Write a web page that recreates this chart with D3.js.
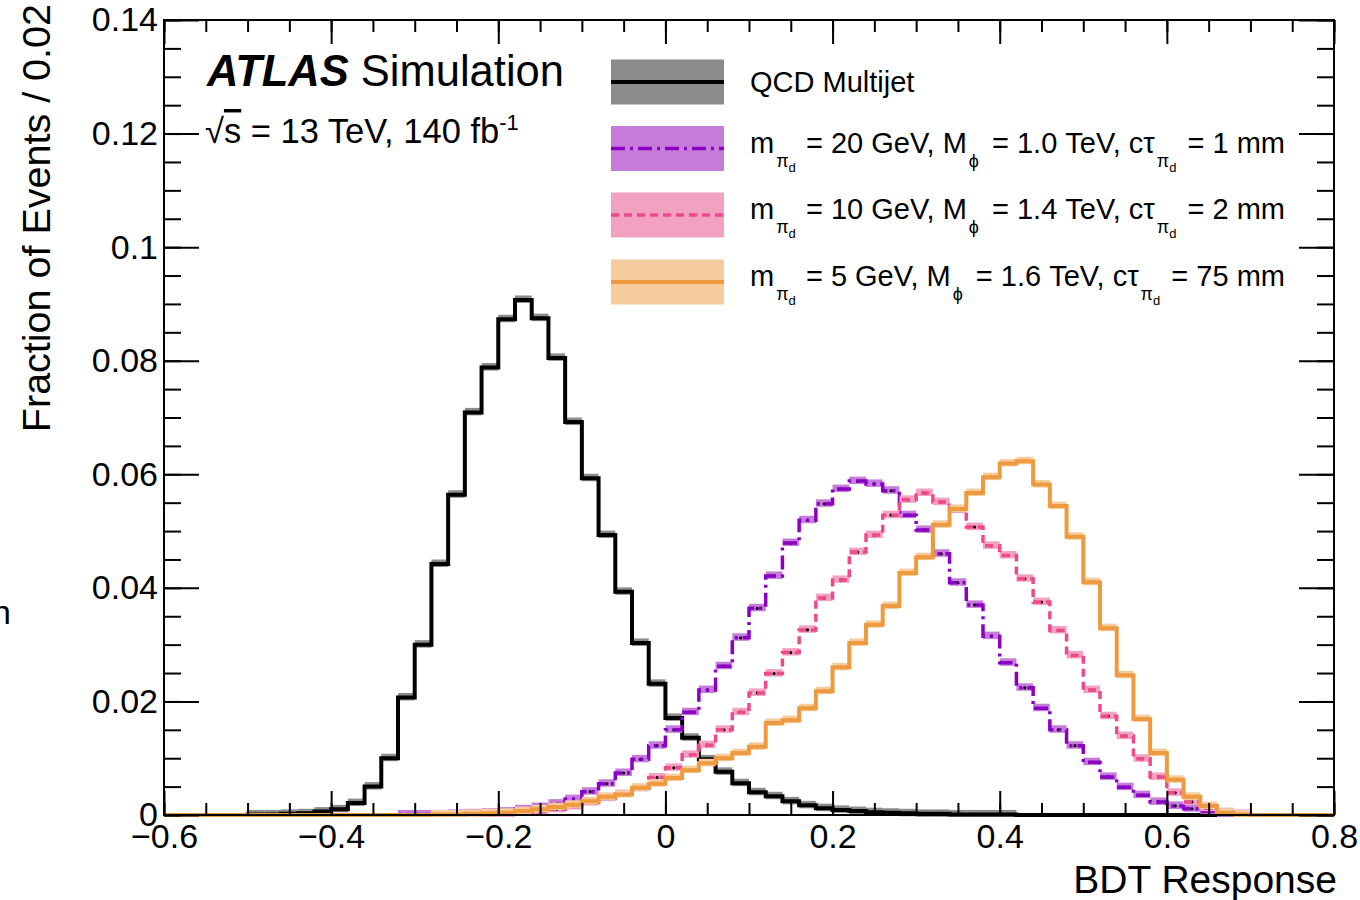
<!DOCTYPE html>
<html><head><meta charset="utf-8">
<script src="https://cdn.jsdelivr.net/npm/d3@7"></script>
<style>
body{margin:0;background:#fff;}
svg{display:block;font-family:"Liberation Sans",Arial,Helvetica,sans-serif;}
</style></head><body>
<svg id="chart" width="1360" height="900"></svg>
<script>
// ---------------- data ----------------
const xMin = -0.6, xMax = 0.8, binWidth = 0.02;
const qcd = [0,0,0,0,0,0.0001,0.0001,0.0002,0.0003,0.0006,0.0010,0.0021,0.0050,0.0100,0.0207,0.0300,0.0442,0.0564,0.0709,0.0788,
  0.0873,0.0907,0.0875,0.0805,0.0692,0.0593,0.0493,0.0393,0.0303,0.0231,0.0171,0.0136,0.0098,0.0076,0.0056,0.0040,0.0033,0.0024,0.0017,0.0012,
  0.0009,0.0007,0.0005,0.0004,0.0003,0.0002,0.0002,0.0001,0.0001,0.0001,0.0001,0,0,0,0,0,0,0,0,0,
  0,0,0,0,0,0,0,0,0,0];
const sig20 = [0,0,0,0,0,0,0,0,0,0,0,0,0,0,0.0001,0.0001,0.0001,0.0002,0.0003,0.0004,
  0.0006,0.0010,0.0014,0.0020,0.0028,0.0041,0.0055,0.0074,0.0098,0.0122,0.0150,0.0181,0.0220,0.0262,0.0312,0.0364,0.0421,0.0479,0.0519,0.0548,
  0.0574,0.0588,0.0583,0.0571,0.0528,0.0502,0.0460,0.0409,0.0370,0.0315,0.0268,0.0224,0.0188,0.0150,0.0122,0.0093,0.0067,0.0049,0.0035,0.0023,
  0.0016,0.0011,0.0006,0.0002,0.0001,0,0,0,0,0];
const sig10 = [0,0,0,0,0,0,0,0,0,0,0,0,0,0,0,0,0,0,0.0001,0.0001,
  0.0002,0.0004,0.0006,0.0010,0.0015,0.0022,0.0030,0.0037,0.0047,0.0066,0.0083,0.0106,0.0123,0.0150,0.0181,0.0215,0.0249,0.0286,0.0326,0.0382,
  0.0414,0.0463,0.0493,0.0528,0.0555,0.0567,0.0551,0.0537,0.0507,0.0474,0.0457,0.0416,0.0375,0.0325,0.0281,0.0220,0.0174,0.0139,0.0099,0.0067,
  0.0039,0.0023,0.0012,0.0005,0.0002,0,0,0,0,0];
const sig5 = [0,0,0,0,0,0,0,0,0,0,0,0,0,0,0,0,0.0001,0.0001,0.0002,0.0003,
  0.0004,0.0007,0.0010,0.0014,0.0018,0.0024,0.0032,0.0036,0.0048,0.0055,0.0065,0.0079,0.0091,0.0100,0.0109,0.0120,0.0162,0.0167,0.0188,0.0218,
  0.0260,0.0303,0.0335,0.0368,0.0426,0.0454,0.0511,0.0539,0.0567,0.0595,0.0619,0.0623,0.0582,0.0544,0.0490,0.0410,0.0329,0.0246,0.0169,0.0109,
  0.0062,0.0032,0.0016,0.0004,0.0001,0,0,0,0,0];

const xTickValues = [-0.6,-0.4,-0.2,0,0.2,0.4,0.6,0.8];
const xTickLabels = ["\u22120.6","\u22120.4","\u22120.2","0","0.2","0.4","0.6","0.8"];
const yTickValues = [0,0.02,0.04,0.06,0.08,0.1,0.12,0.14];
const yTickLabels = ["0","0.02","0.04","0.06","0.08","0.1","0.12","0.14"];

const seriesNames = ["QCD Multijet","sig20","sig10","sig5"];
const mPi   = ["20","10","5"];
const mPhi  = ["1.0","1.4","1.6"];
const cTau  = ["1","2","75"];

// ---------------- layout / style ----------------
const L = 164, R = 1334, T = 20, B = 815;
const styles = [
  {data: qcd,   line: "#000000", band: "#8c8c8c", width: 4,   dash: null},
  {data: sig20, line: "#8a00c4", band: "#c57cd9", width: 3.5, dash: "14,5,3,5"},
  {data: sig10, line: "#ee4a8a", band: "#f3a1c1", width: 3.5, dash: "8,5"},
  {data: sig5,  line: "#ee9a3e", band: "#f6cb9d", width: 4,   dash: null}
];

const svg = d3.select("#chart");
const x = d3.scaleLinear().domain([xMin, xMax]).range([L, R]);
const y = d3.scaleLinear().domain([0, 0.14]).range([B, T]);
const nBins = qcd.length;
const edges = d3.range(nBins + 1).map(i => xMin + i * binWidth);

svg.append("defs").append("clipPath").attr("id","plotclip")
  .append("rect").attr("x",L).attr("y",T).attr("width",R-L).attr("height",B-T+2);

const plot = svg.append("g").attr("clip-path","url(#plotclip)");
const line = d3.line().x(d => x(d[0])).y(d => y(d[1]));

styles.forEach(s => {
  const g = plot.append("g");
  g.selectAll("rect").data(s.data.map((v,i)=>({v,i})).filter(d=>d.v>0)).join("rect")
    .attr("x", d => x(edges[d.i]))
    .attr("width", d => x(edges[d.i+1]) - x(edges[d.i]))
    .attr("y", d => y(d.v) - 4.5)
    .attr("height", 7.5)
    .attr("fill", s.band);
  g.selectAll("circle").data(s.data.map((v,i)=>({v,i})).filter(d=>d.v>0)).join("circle")
    .attr("cx", d => x((edges[d.i]+edges[d.i+1])/2))
    .attr("cy", d => y(d.v))
    .attr("r", 1.6)
    .attr("fill", "#000");
  const pts = [];
  s.data.forEach((v,i) => { pts.push([edges[i], v]); pts.push([edges[i+1], v]); });
  g.append("path").datum(pts).attr("d", line)
    .attr("fill","none").attr("stroke", s.line).attr("stroke-width", s.width)
    .attr("stroke-dasharray", s.dash).attr("stroke-linejoin","miter");
});

// ---------------- axes ----------------
const minorX = d3.range(-0.6, 0.8001, 0.05).map(v => +v.toFixed(3));
const minorY = d3.range(0, 0.14001, 0.005).map(v => +v.toFixed(4));
const tickFont = 34;

function styleAxis(g){
  g.select(".domain").remove();
  g.selectAll(".tick line").attr("stroke","#000").attr("stroke-width",2);
  g.selectAll("text").attr("font-size",tickFont).attr("font-family","Liberation Sans, Arial, sans-serif").attr("fill","#000");
}

svg.append("g").attr("transform",`translate(0,${B})`)
  .call(d3.axisBottom(x).tickValues(minorX).tickFormat("").tickSizeInner(-12).tickSizeOuter(0)).call(styleAxis);
svg.append("g").attr("transform",`translate(0,${B})`)
  .call(d3.axisBottom(x).tickValues(xTickValues).tickFormat((d,i)=>xTickLabels[i]).tickSizeInner(-24).tickSizeOuter(0).tickPadding(9)).call(styleAxis);
svg.append("g").attr("transform",`translate(0,${T})`)
  .call(d3.axisTop(x).tickValues(minorX).tickFormat("").tickSizeInner(-12).tickSizeOuter(0)).call(styleAxis);
svg.append("g").attr("transform",`translate(0,${T})`)
  .call(d3.axisTop(x).tickValues(xTickValues).tickFormat("").tickSizeInner(-24).tickSizeOuter(0)).call(styleAxis);
svg.append("g").attr("transform",`translate(${L},0)`)
  .call(d3.axisLeft(y).tickValues(minorY).tickFormat("").tickSizeInner(-17).tickSizeOuter(0)).call(styleAxis);
svg.append("g").attr("transform",`translate(${L},0)`)
  .call(d3.axisLeft(y).tickValues(yTickValues).tickFormat((d,i)=>yTickLabels[i]).tickSizeInner(-35).tickSizeOuter(0).tickPadding(6)).call(styleAxis);
svg.append("g").attr("transform",`translate(${R},0)`)
  .call(d3.axisRight(y).tickValues(minorY).tickFormat("").tickSizeInner(-17).tickSizeOuter(0)).call(styleAxis);
svg.append("g").attr("transform",`translate(${R},0)`)
  .call(d3.axisRight(y).tickValues(yTickValues).tickFormat("").tickSizeInner(-35).tickSizeOuter(0)).call(styleAxis);

svg.append("rect").attr("x",L).attr("y",T).attr("width",R-L).attr("height",B-T)
  .attr("fill","none").attr("stroke","#000").attr("stroke-width",2);

// axis titles
svg.append("text").attr("x",1337).attr("y",893).attr("text-anchor","end")
  .attr("font-size",39).text("BDT Response");
svg.append("text").attr("transform","translate(50,4) rotate(-90)").attr("text-anchor","end")
  .attr("font-size",39.5).text("Fraction of Events / 0.02");

// stray glyph at left edge (as in the reference)
svg.append("text").attr("x",-8).attr("y",624).attr("font-size",34).text("n");

// ATLAS label
const atl = svg.append("text").attr("x",207).attr("y",86).attr("font-size",43.5);
atl.append("tspan").attr("font-weight","bold").attr("font-style","italic").text("ATLAS");
atl.append("tspan").text(" Simulation");

const en = svg.append("text").attr("x",205).attr("y",143).attr("font-size",34.5);
en.append("tspan").text("\u221A");
en.append("tspan").attr("text-decoration","overline").text("s");
en.append("tspan").text(" = 13 TeV, 140 fb");
en.append("tspan").attr("dy",-13).attr("font-size",22).text("-1");

// ---------------- legend ----------------
const legY = [82, 148.5, 215, 282];
const lg = svg.append("g");
styles.forEach((s,k) => {
  const cy = legY[k];
  lg.append("rect").attr("x",611).attr("y",cy-22.5).attr("width",113).attr("height",45).attr("fill",s.band);
  lg.append("line").attr("x1",611).attr("x2",724).attr("y1",cy).attr("y2",cy)
    .attr("stroke",s.line).attr("stroke-width",s.width).attr("stroke-dasharray",s.dash);
  if (k === 0) {
    lg.append("text").attr("x",750).attr("y",cy+10).attr("font-size",29).text(seriesNames[0]);
  } else {
    const t = lg.append("text").attr("x",750).attr("y",cy+4).attr("font-size",29);
    const sub = (g, s1, s2) => {
      g.append("tspan").attr("dy",14).attr("dx",2).attr("font-size",18).text(s1);
      if (s2) { g.append("tspan").attr("dy",5).attr("font-size",13).text(s2); return 19; }
      return 14;
    };
    t.append("tspan").text("m");
    let d = sub(t, "\u03C0", "d");
    t.append("tspan").attr("dy",-d).attr("dx",2).text(` = ${mPi[k-1]} GeV, M`);
    d = sub(t, "\u03D5");
    t.append("tspan").attr("dy",-d).attr("dx",5).text(` = ${mPhi[k-1]} TeV, c\u03C4`);
    d = sub(t, "\u03C0", "d");
    t.append("tspan").attr("dy",-d).attr("dx",3).text(` = ${cTau[k-1]} mm`);
  }
});
</script>
</body></html>
